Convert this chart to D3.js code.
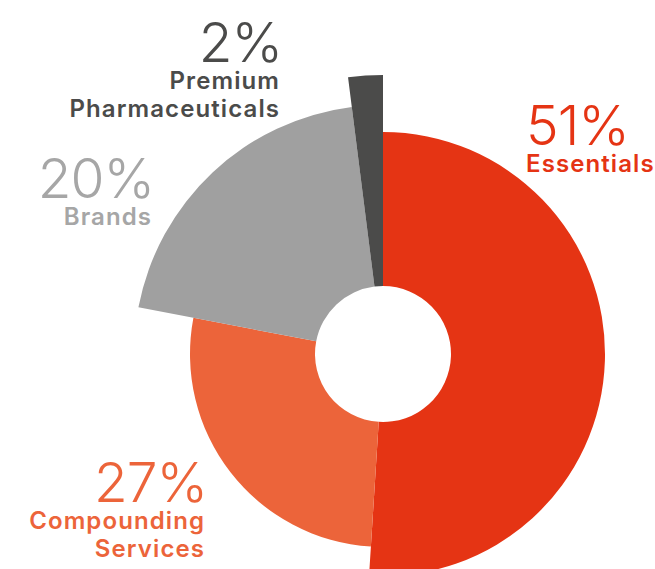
<!DOCTYPE html>
<html>
<head>
<meta charset="utf-8">
<script src="https://cdn.jsdelivr.net/npm/d3@7"></script>
<style>
  html, body { margin: 0; padding: 0; background: #fff; }
  svg { display: block; }
  text { font-family: Inter, "Noto Sans", sans-serif; }
</style>
</head>
<body>
<svg id="chart" width="655" height="569"></svg>
<script>
// Revenue share by segment
const segments = ["Essentials", "Compounding Services", "Brands", "Premium Pharmaceuticals"];
const shares = [51, 27, 20, 2];
const labelLines = [["Essentials"], ["Compounding", "Services"], ["Brands"], ["Premium", "Pharmaceuticals"]];

// Styling per segment
const colors = ["#e53414", "#ec643a", "#a0a0a0", "#4b4b4a"];
const textColors = ["#e53414", "#ec643a", "#a6a6a6", "#4b4b4a"];
const outerRadii = [222, 193, 249, 279];
const labelPos = [
  { x: 526, y: 145, anchor: "start" },
  { x: 204, y: 502, anchor: "end" },
  { x: 151, y: 198, anchor: "end" },
  { x: 279, y: 62, anchor: "end" }
];

const svg = d3.select("#chart");
const cx = 383, cy = 354, innerR = 68;
const nameSpacing = 1.1;

const pie = d3.pie().sort(null).value(d => d)(shares);

const g = svg.append("g").attr("transform", `translate(${cx},${cy})`);
g.selectAll("path")
  .data(pie)
  .join("path")
  .attr("d", (d, i) => d3.arc().innerRadius(innerR).outerRadius(outerRadii[i])(d))
  .attr("fill", (d, i) => colors[i]);

const labels = svg.selectAll("g.label")
  .data(segments)
  .join("g")
  .attr("class", "label")
  .attr("fill", (d, i) => textColors[i])
  .attr("text-anchor", (d, i) => labelPos[i].anchor);

labels.append("text")
  .attr("x", (d, i) => labelPos[i].anchor === "end" ? labelPos[i].x + 3 : labelPos[i].x)
  .attr("y", (d, i) => labelPos[i].y)
  .attr("font-size", 55)
  .attr("font-weight", 300)
  .attr("letter-spacing", -1)
  .text((d, i) => shares[i] + "%");

labels.each(function(d, i) {
  const p = labelPos[i];
  // trailing letter-spacing is compensated on right-aligned names
  const x = p.anchor === "end" ? p.x + nameSpacing : p.x;
  d3.select(this).selectAll("text.name")
    .data(labelLines[i])
    .join("text")
    .attr("class", "name")
    .attr("x", x)
    .attr("y", (t, j) => p.y + 27 + j * 27.5)
    .attr("font-size", 24)
    .attr("font-weight", 600)
    .attr("letter-spacing", nameSpacing)
    .text(t => t);
});
</script>
</body>
</html>
